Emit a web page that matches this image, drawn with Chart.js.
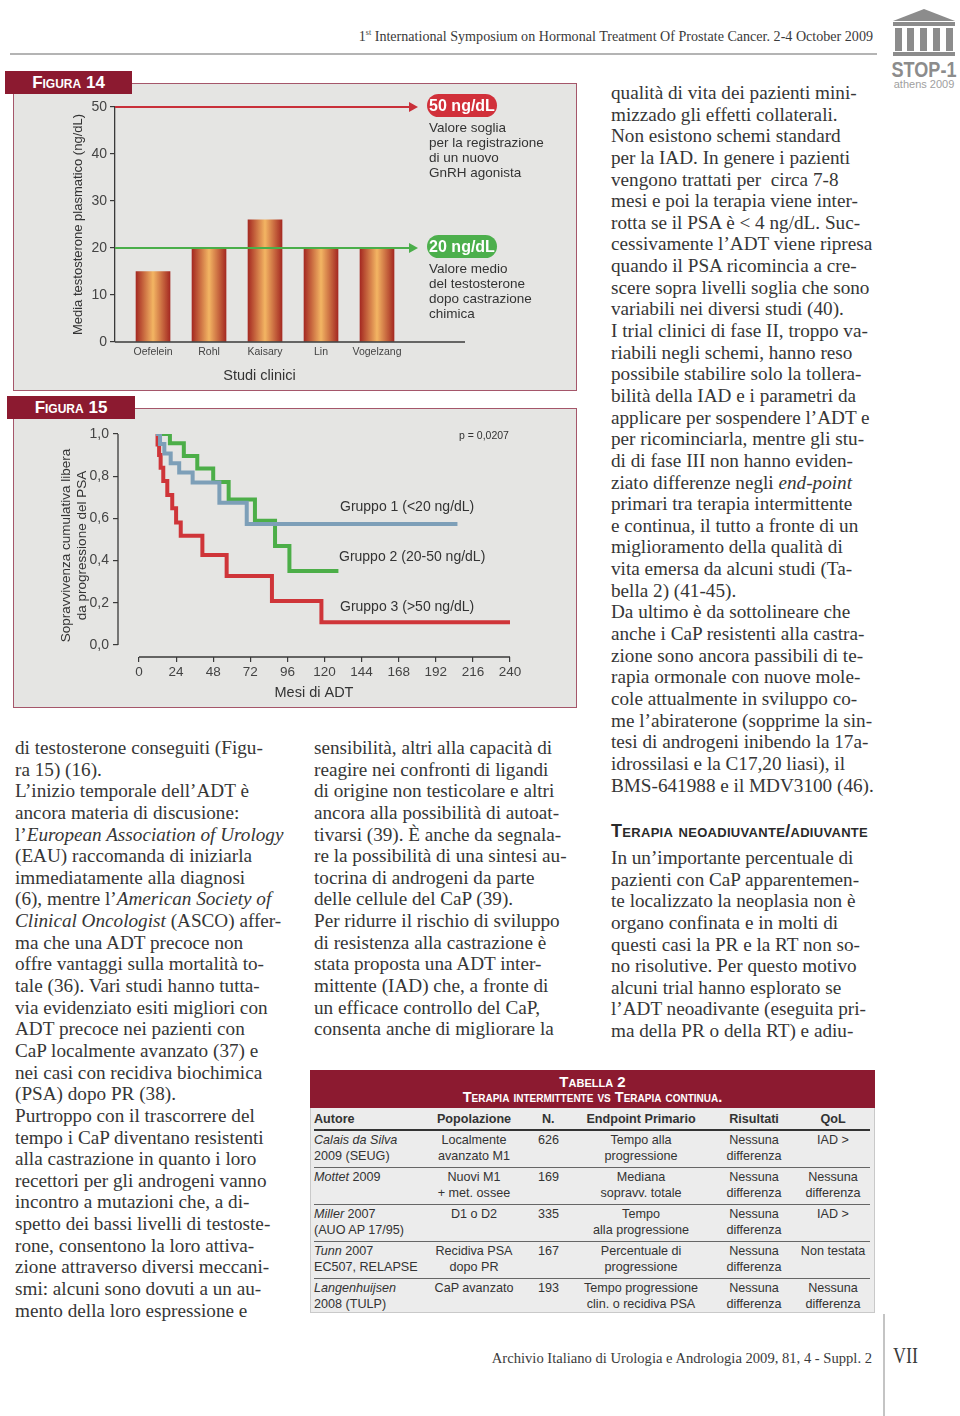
<!DOCTYPE html>
<html>
<head>
<meta charset="utf-8">
<script src="https://cdn.jsdelivr.net/npm/chart.js@4.4.0/dist/chart.umd.min.js"></script>
<style>
body{margin:0;width:960px;height:1416px;position:relative;background:#fff;overflow:hidden;font-family:"Liberation Serif",serif;color:#363636}
.abs{position:absolute}
.col div{height:21.65px;line-height:21.65px;white-space:pre;font-size:19.2px}
.lab{background:#8c1a30;color:#fff;font-family:"Liberation Sans",sans-serif;font-weight:bold;font-variant:small-caps;font-size:17px;line-height:23px;text-align:center}
.box{background:#e5e5e3;border:1px solid #a5566a;box-sizing:border-box}
.ann{font-family:"Liberation Sans",sans-serif;color:#333;white-space:pre}
.pill{color:#fff;font-family:"Liberation Sans",sans-serif;font-weight:bold;font-size:16px;line-height:23px;height:23px;width:70px;border-radius:12px;text-align:center}
table{border-collapse:collapse;table-layout:fixed;font-family:"Liberation Sans",sans-serif;font-size:12.6px;color:#333}
td,th{padding:1px 0 0 0;vertical-align:top;line-height:16px;text-align:center;white-space:pre}
th{height:21px;border-bottom:2px solid #333;font-weight:bold;vertical-align:middle;padding:0}
tr.r td{height:35px;border-bottom:1px solid #666}
tr.last td{height:35px}
</style>
</head>
<body>

<!-- header -->
<div class="abs" style="left:300px;top:28px;width:573px;text-align:right;font-size:14.1px;white-space:pre;color:#3a3a3a">1<sup style="font-size:8px">st</sup> International Symposium on Hormonal Treatment Of Prostate Cancer. 2-4 October 2009</div>
<div class="abs" style="left:10px;top:53px;width:867px;height:2px;background:#b4b4b4"></div>

<!-- logo -->
<div class="abs" style="left:893px;top:9px;width:0;height:0;border-left:31px solid transparent;border-right:31px solid transparent;border-bottom:12px solid #8c8c8c"></div>
<div class="abs" style="left:893px;top:22px;width:62px;height:4px;background:#8c8c8c"></div>
<div class="abs" style="left:895px;top:28px;width:7px;height:23px;background:#8c8c8c"></div>
<div class="abs" style="left:907px;top:28px;width:7px;height:23px;background:#8c8c8c"></div>
<div class="abs" style="left:920px;top:28px;width:7px;height:23px;background:#8c8c8c"></div>
<div class="abs" style="left:933px;top:28px;width:7px;height:23px;background:#8c8c8c"></div>
<div class="abs" style="left:946px;top:28px;width:7px;height:23px;background:#8c8c8c"></div>
<div class="abs" style="left:893px;top:52px;width:62px;height:4px;background:#8c8c8c"></div>
<div class="abs" style="left:884px;top:57px;width:80px;text-align:center;font-family:'Liberation Sans',sans-serif;font-weight:bold;font-size:22px;color:#8c8c8c;white-space:nowrap;transform:scaleX(0.82)">STOP-1</div>
<div class="abs" style="left:884px;top:78px;width:80px;text-align:center;font-family:'Liberation Sans',sans-serif;font-size:11px;color:#a0a0a0;white-space:nowrap">athens 2009</div>

<!-- figure 14 -->
<div class="abs box" style="left:13px;top:83px;width:564px;height:308px"></div>
<canvas id="fig14" class="abs" width="564" height="308" style="left:13px;top:83px"></canvas>
<div class="abs lab" style="left:5px;top:71px;width:127px">Figura 14</div>
<div class="abs pill" style="left:427px;top:94px;background:#d1303a">50 ng/dL</div>
<div class="abs ann" style="left:429px;top:120px;font-size:13.5px;line-height:15px">Valore soglia
per la registrazione
di un nuovo
GnRH agonista</div>
<div class="abs pill" style="left:427px;top:235px;background:#4caf4c">20 ng/dL</div>
<div class="abs ann" style="left:429px;top:261px;font-size:13.5px;line-height:15px">Valore medio
del testosterone
dopo castrazione
chimica</div>

<!-- figure 15 -->
<div class="abs box" style="left:13px;top:408px;width:564px;height:300px"></div>
<canvas id="fig15" class="abs" width="564" height="300" style="left:13px;top:408px"></canvas>
<div class="abs lab" style="left:7px;top:396px;width:128px">Figura 15</div>
<div class="abs ann" style="left:459px;top:429px;font-size:10.5px">p = 0,0207</div>
<div class="abs ann" style="left:340px;top:498px;font-size:14px">Gruppo 1 (&lt;20 ng/dL)</div>
<div class="abs ann" style="left:339px;top:548px;font-size:14px">Gruppo 2 (20-50 ng/dL)</div>
<div class="abs ann" style="left:340px;top:598px;font-size:14px">Gruppo 3 (&gt;50 ng/dL)</div>

<!-- column 3 top -->
<div class="abs col" style="left:611px;top:82px">
<div>qualità di vita dei pazienti mini-</div>
<div>mizzado gli effetti collaterali.</div>
<div>Non esistono schemi standard</div>
<div>per la IAD. In genere i pazienti</div>
<div>vengono trattati per  circa 7-8</div>
<div>mesi e poi la terapia viene inter-</div>
<div>rotta se il PSA è &lt; 4 ng/dL. Suc-</div>
<div>cessivamente l’ADT viene ripresa</div>
<div>quando il PSA ricomincia a cre-</div>
<div>scere sopra livelli soglia che sono</div>
<div>variabili nei diversi studi (40).</div>
<div>I trial clinici di fase II, troppo va-</div>
<div>riabili negli schemi, hanno reso</div>
<div>possibile stabilire solo la tollera-</div>
<div>bilità della IAD e i parametri da</div>
<div>applicare per sospendere l’ADT e</div>
<div>per ricominciarla, mentre gli stu-</div>
<div>di di fase III non hanno eviden-</div>
<div>ziato differenze negli <i>end-point</i></div>
<div>primari tra terapia intermittente</div>
<div>e continua, il tutto a fronte di un</div>
<div>miglioramento della qualità di</div>
<div>vita emersa da alcuni studi (Ta-</div>
<div>bella 2) (41-45).</div>
<div>Da ultimo è da sottolineare che</div>
<div>anche i CaP resistenti alla castra-</div>
<div>zione sono ancora passibili di te-</div>
<div>rapia ormonale con nuove mole-</div>
<div>cole attualmente in sviluppo co-</div>
<div>me l’abiraterone (sopprime la sin-</div>
<div>tesi di androgeni inibendo la 17a-</div>
<div>idrossilasi e la C17,20 liasi), il</div>
<div>BMS-641988 e il MDV3100 (46).</div>
</div>

<div class="abs" style="left:611px;top:821px;font-family:'Liberation Sans',sans-serif;font-weight:bold;font-variant:small-caps;font-size:18px;letter-spacing:0.3px;color:#2a2a2a;white-space:pre">Terapia neoadiuvante/adiuvante</div>

<div class="abs col" style="left:611px;top:847px">
<div>In un’importante percentuale di</div>
<div>pazienti con CaP apparentemen-</div>
<div>te localizzato la neoplasia non è</div>
<div>organo confinata e in molti di</div>
<div>questi casi la PR e la RT non so-</div>
<div>no risolutive. Per questo motivo</div>
<div>alcuni trial hanno esplorato se</div>
<div>l’ADT neoadivante (eseguita pri-</div>
<div>ma della PR o della RT) e adiu-</div>
</div>

<!-- column 1 -->
<div class="abs col" style="left:15px;top:737px">
<div>di testosterone conseguiti (Figu-</div>
<div>ra 15) (16).</div>
<div>L’inizio temporale dell’ADT è</div>
<div>ancora materia di discusione:</div>
<div>l’<i>European Association of Urology</i></div>
<div>(EAU) raccomanda di iniziarla</div>
<div>immediatamente alla diagnosi</div>
<div>(6), mentre l’<i>American Society of</i></div>
<div><i>Clinical Oncologist</i> (ASCO) affer-</div>
<div>ma che una ADT precoce non</div>
<div>offre vantaggi sulla mortalità to-</div>
<div>tale (36). Vari studi hanno tutta-</div>
<div>via evidenziato esiti migliori con</div>
<div>ADT precoce nei pazienti con</div>
<div>CaP localmente avanzato (37) e</div>
<div>nei casi con recidiva biochimica</div>
<div>(PSA) dopo PR (38).</div>
<div>Purtroppo con il trascorrere del</div>
<div>tempo i CaP diventano resistenti</div>
<div>alla castrazione in quanto i loro</div>
<div>recettori per gli androgeni vanno</div>
<div>incontro a mutazioni che, a di-</div>
<div>spetto dei bassi livelli di testoste-</div>
<div>rone, consentono la loro attiva-</div>
<div>zione attraverso diversi meccani-</div>
<div>smi: alcuni sono dovuti a un au-</div>
<div>mento della loro espressione e</div>
</div>

<!-- column 2 -->
<div class="abs col" style="left:314px;top:737px">
<div>sensibilità, altri alla capacità di</div>
<div>reagire nei confronti di ligandi</div>
<div>di origine non testicolare e altri</div>
<div>ancora alla possibilità di autoat-</div>
<div>tivarsi (39). È anche da segnala-</div>
<div>re la possibilità di una sintesi au-</div>
<div>tocrina di androgeni da parte</div>
<div>delle cellule del CaP (39).</div>
<div>Per ridurre il rischio di sviluppo</div>
<div>di resistenza alla castrazione è</div>
<div>stata proposta una ADT inter-</div>
<div>mittente (IAD) che, a fronte di</div>
<div>un efficace controllo del CaP,</div>
<div>consenta anche di migliorare la</div>
</div>

<!-- table 2 -->
<div class="abs" style="left:310px;top:1070px;width:565px;height:243px;background:#ececec;border:1px solid #c9c9c9;box-sizing:border-box"></div>
<div class="abs" style="left:310px;top:1070px;width:565px;height:38px;background:#8c1a30;color:#fff;font-family:'Liberation Sans',sans-serif;font-weight:bold;font-variant:small-caps;text-align:center">
<div style="font-size:15px;line-height:16px;margin-top:4px">Tabella 2</div>
<div style="font-size:14.5px;line-height:15px">Terapia intermittente vs Terapia continua.</div>
</div>
<table class="abs" style="left:314px;top:1108px;width:556px">
<colgroup><col style="width:106px"><col style="width:108px"><col style="width:42px"><col style="width:142px"><col style="width:84px"><col style="width:74px"></colgroup>
<tr><th style="text-align:left">Autore</th><th>Popolazione</th><th style="text-align:left;padding-left:14px">N.</th><th>Endpoint Primario</th><th>Risultati</th><th>QoL</th></tr>
<tr class="r"><td style="text-align:left"><i>Calais da Silva</i>
2009 (SEUG)</td><td>Localmente
avanzato M1</td><td style="text-align:left;padding-left:10px">626</td><td>Tempo alla
progressione</td><td>Nessuna
differenza</td><td>IAD &gt;</td></tr>
<tr class="r"><td style="text-align:left"><i>Mottet</i> 2009</td><td>Nuovi M1
+ met. ossee</td><td style="text-align:left;padding-left:10px">169</td><td>Mediana
sopravv. totale</td><td>Nessuna
differenza</td><td>Nessuna
differenza</td></tr>
<tr class="r"><td style="text-align:left"><i>Miller</i> 2007
(AUO AP 17/95)</td><td>D1 o D2</td><td style="text-align:left;padding-left:10px">335</td><td>Tempo
alla progressione</td><td>Nessuna
differenza</td><td>IAD &gt;</td></tr>
<tr class="r"><td style="text-align:left"><i>Tunn</i> 2007
EC507, RELAPSE</td><td>Recidiva PSA
dopo PR</td><td style="text-align:left;padding-left:10px">167</td><td>Percentuale di
progressione</td><td>Nessuna
differenza</td><td>Non testata</td></tr>
<tr class="last"><td style="text-align:left"><i>Langenhuijsen</i>
2008 (TULP)</td><td>CaP avanzato</td><td style="text-align:left;padding-left:10px">193</td><td>Tempo progressione
clin. o recidiva PSA</td><td>Nessuna
differenza</td><td>Nessuna
differenza</td></tr>
</table>

<!-- footer -->
<div class="abs" style="left:400px;top:1350px;width:472px;text-align:right;font-size:14.6px;white-space:pre;color:#3a3a3a">Archivio Italiano di Urologia e Andrologia 2009, 81, 4 - Suppl. 2</div>
<div class="abs" style="left:883px;top:1314px;width:2px;height:102px;background:#c4c4c4"></div>
<div class="abs" style="left:893px;top:1342px;font-size:24px;color:#3a3a3a;transform:scaleX(0.75);transform-origin:left">VII</div>

<script>
// Figura 14 - media testosterone plasmatico per studio
const studies = ['Oefelein', 'Rohl', 'Kaisary', 'Lin', 'Vogelzang'];
const testosterone = [15, 20, 26, 20, 20];
const thresholds = [50, 20];
const thresholdColors = ['#c9303a', '#4aae4a'];
const testoTicks = [0, 10, 20, 30, 40, 50];

// Figura 15 - sopravvivenza libera da progressione PSA (mesi di ADT)
const monthTicks = [0, 24, 48, 72, 96, 120, 144, 168, 192, 216, 240];
const survTicks = [0, 0.2, 0.4, 0.6, 0.8, 1.0];
const group1Months = [11, 13.6, 16.4, 20.5, 26, 34.7, 52, 69.7, 206];
const group1Surv   = [1.0, 0.953, 0.908, 0.861, 0.817, 0.77, 0.674, 0.573, 0.573];
const group2Months = [11, 20, 29, 37.7, 48, 58, 75, 88, 97.3, 129];
const group2Surv   = [1.0, 0.956, 0.896, 0.836, 0.773, 0.69, 0.589, 0.469, 0.351, 0.351];
const group3Months = [11, 12, 13, 14, 15.7, 18.3, 21.5, 24, 27, 41, 56.7, 86, 118, 240];
const group3Surv   = [1.0, 0.95, 0.9, 0.84, 0.777, 0.711, 0.648, 0.58, 0.518, 0.427, 0.327, 0.209, 0.108, 0.108];

const sans = 'Liberation Sans, Arial, sans-serif';
Chart.defaults.font.family = sans;
Chart.defaults.color = '#3a3a3a';

// linee soglia con freccia + asse x prolungato
const fig14Extras = {
  id: 'fig14Extras',
  afterDraw(chart) {
    const ctx = chart.ctx, a = chart.chartArea, ys = chart.scales.y;
    ctx.save();
    ctx.strokeStyle = '#3a3a3a';
    ctx.lineWidth = 1.3;
    ctx.beginPath();
    ctx.moveTo(a.left, a.bottom);
    ctx.lineTo(a.right + 61, a.bottom);
    ctx.stroke();
    thresholds.forEach((t, i) => {
      const y = ys.getPixelForValue(t);
      const end = a.right + 14;
      ctx.strokeStyle = thresholdColors[i];
      ctx.fillStyle = thresholdColors[i];
      ctx.lineWidth = 2;
      ctx.beginPath();
      ctx.moveTo(a.left, y);
      ctx.lineTo(end - 6, y);
      ctx.stroke();
      ctx.beginPath();
      ctx.moveTo(end, y);
      ctx.lineTo(end - 9, y - 5);
      ctx.lineTo(end - 9, y + 5);
      ctx.closePath();
      ctx.fill();
    });
    ctx.restore();
  }
};

new Chart(document.getElementById('fig14'), {
  type: 'bar',
  data: {
    datasets: [{
      data: studies.map((s, i) => ({x: i, y: testosterone[i]})),
      barThickness: 34,
      borderWidth: 0,
      backgroundColor(c) {
        const xs = c.chart.scales.x;
        const cx = xs && c.dataIndex !== undefined ? xs.getPixelForValue(c.dataIndex) : NaN;
        if (!isFinite(cx)) return '#c8542e';
        const g = c.chart.ctx.createLinearGradient(cx - 17, 0, cx + 17, 0);
        g.addColorStop(0, '#a52a22');
        g.addColorStop(0.5, '#f3b563');
        g.addColorStop(1, '#a52a22');
        return g;
      }
    }]
  },
  options: {
    responsive: false,
    animation: false,
    layout: {padding: {left: 0, top: 24, right: 173, bottom: 0}},
    plugins: {legend: {display: false}, tooltip: {enabled: false}},
    scales: {
      x: {
        type: 'linear',
        offset: false,
        min: -0.679,
        max: 4.482,
        afterBuildTicks: (s) => { s.ticks = studies.map((n, i) => ({value: i})); },
        afterFit: (s) => { s.height = 49; s.paddingLeft = 0; s.paddingRight = 0; },
        grid: {display: false, drawTicks: false},
        border: {display: false},
        ticks: {padding: 4, font: {size: 10.5}, color: '#444', maxRotation: 0, callback: (v) => studies[v]},
        title: {display: true, text: 'Studi clinici', font: {size: 14.5}, color: '#333', padding: {top: 0, bottom: 6}}
      },
      y: {
        min: 0,
        max: 50,
        afterBuildTicks: (s) => { s.ticks = testoTicks.map(v => ({value: v})); },
        afterFit: (s) => { s.width = 102; s.paddingTop = 0; s.paddingBottom = 0; },
        grid: {drawOnChartArea: false, tickLength: 5, color: '#3a3a3a', lineWidth: 1.2},
        border: {display: true, color: '#3a3a3a', width: 1.3},
        ticks: {padding: 3, font: {size: 14}, color: '#444'},
        title: {display: true, text: 'Media testosterone plasmatico (ng/dL)', font: {size: 13}, color: '#333', padding: {top: 58, bottom: 0}}
      }
    }
  },
  plugins: [fig14Extras]
});

// assi staccati (stile Kaplan-Meier)
const fig15Axes = {
  id: 'fig15Axes',
  afterDraw(chart) {
    const ctx = chart.ctx, a = chart.chartArea, xs = chart.scales.x, ys = chart.scales.y;
    ctx.save();
    ctx.strokeStyle = '#3a3a3a';
    ctx.lineWidth = 1.3;
    ctx.beginPath();
    ctx.moveTo(a.left, ys.getPixelForValue(survTicks[0]));
    ctx.lineTo(a.left, ys.getPixelForValue(survTicks[survTicks.length - 1]));
    ctx.moveTo(xs.getPixelForValue(monthTicks[0]), a.bottom);
    ctx.lineTo(xs.getPixelForValue(monthTicks[monthTicks.length - 1]), a.bottom);
    ctx.stroke();
    ctx.restore();
  }
};

const km = (months, surv, color) => ({
  data: months.map((m, i) => ({x: m, y: surv[i]})),
  borderColor: color,
  borderWidth: 4,
  stepped: true,
  pointRadius: 0,
  fill: false,
  borderCapStyle: 'butt',
  borderJoinStyle: 'miter'
});

new Chart(document.getElementById('fig15'), {
  type: 'line',
  data: {
    datasets: [
      km(group1Months, group1Surv, '#7d9fb8'),
      km(group2Months, group2Surv, '#4cae48'),
      km(group3Months, group3Surv, '#cf3539')
    ]
  },
  options: {
    responsive: false,
    animation: false,
    layout: {padding: {left: 0, top: 26, right: 67, bottom: 0}},
    plugins: {legend: {display: false}, tooltip: {enabled: false}},
    scales: {
      x: {
        type: 'linear',
        min: -13.585,
        max: 240,
        afterBuildTicks: (s) => { s.ticks = monthTicks.map(v => ({value: v})); },
        afterFit: (s) => { s.height = 51; s.paddingLeft = 0; s.paddingRight = 0; },
        grid: {drawOnChartArea: false, tickLength: 5, color: '#3a3a3a', lineWidth: 1.2},
        border: {display: false},
        ticks: {padding: 2, font: {size: 13.5}, color: '#444', maxRotation: 0},
        title: {display: true, text: 'Mesi di ADT', font: {size: 14.5}, color: '#333', padding: {top: 0, bottom: 6}}
      },
      y: {
        min: -0.0569,
        max: 1.0,
        afterBuildTicks: (s) => { s.ticks = survTicks.map(v => ({value: v})); },
        afterFit: (s) => { s.width = 105; s.paddingTop = 0; s.paddingBottom = 0; },
        grid: {drawOnChartArea: false, tickLength: 5, color: '#3a3a3a', lineWidth: 1.2},
        border: {display: false},
        ticks: {padding: 4, font: {size: 14}, color: '#444', callback: (v) => v.toFixed(1).replace('.', ',')},
        title: {display: true, text: ['Sopravvivenza cumulativa libera', 'da progressione del PSA'], font: {size: 13.5}, color: '#333', padding: {top: 45, bottom: 0}}
      }
    }
  },
  plugins: [fig15Axes]
});
</script>
</body>
</html>
